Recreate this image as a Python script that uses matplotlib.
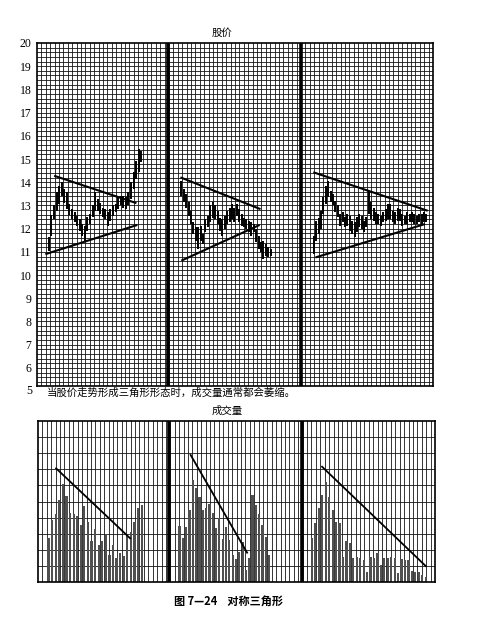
import numpy as np
import matplotlib
matplotlib.use("Agg")
import matplotlib.pyplot as plt

plt.rcParams['font.family'] = ['Noto Sans CJK SC', 'DejaVu Sans']

# ---------------- data ----------------
price_ticks = [6, 7, 8, 9, 10, 11, 12, 13, 14, 15, 16, 17, 18, 19, 20]

p1_high = [11.63, 12.59, 13.0, 13.56, 13.85, 14.0, 13.7, 13.56, 13.06, 12.84, 12.7, 12.56, 12.4,
           12.2, 12.13, 12.5, 12.63, 13.0, 13.56, 13.27, 13.1, 12.9, 12.84, 12.7, 12.84, 13.0,
           13.06, 13.35, 13.4, 13.4, 13.35, 13.56, 14.0, 14.43, 14.93, 15.43, 15.36]
p1_low = [11.05, 11.7, 12.4, 12.77, 13.06, 13.4, 13.1, 12.84, 12.6, 12.4, 12.27, 12.13, 11.9,
          11.7, 11.48, 11.9, 12.2, 12.5, 12.77, 12.77, 12.63, 12.5, 12.4, 12.13, 12.34, 12.56,
          12.7, 12.84, 13.0, 12.9, 12.84, 13.0, 13.27, 13.7, 14.14, 14.43, 14.86]

p2_high = [14.07, 13.7, 13.5, 13.13, 12.77, 12.27, 12.06, 12.06, 12.13, 11.77, 12.41, 12.56, 13.0,
           13.13, 13.0, 12.77, 12.48, 12.41, 12.56, 12.77, 12.91, 13.06, 12.91, 13.06, 12.84,
           12.63, 12.48, 12.41, 12.34, 12.27, 12.2, 11.98, 11.7, 11.41, 11.48, 11.34, 11.19, 11.12]
p2_low = [13.42, 13.13, 12.9, 12.56, 12.2, 11.77, 11.48, 11.12, 11.48, 11.34, 11.84, 12.06, 12.27,
          12.48, 12.41, 12.2, 11.9, 11.7, 11.98, 12.2, 12.27, 12.41, 12.27, 12.56, 12.27, 12.13,
          12.06, 11.98, 11.84, 11.7, 11.84, 11.41, 11.12, 10.98, 10.69, 10.83, 10.76, 10.83]

p3_high = [11.7, 12.34, 12.48, 12.77, 13.35, 13.85, 14.07, 13.63, 13.49, 13.2, 13.0, 12.63, 12.7,
           12.49, 12.63, 12.56, 12.34, 12.27, 12.49, 12.63, 12.56, 12.34, 12.49, 13.63, 13.13,
           12.91, 12.7, 12.63, 12.56, 12.7, 12.84, 13.06, 13.06, 12.77, 12.7, 12.91, 12.84, 12.63,
           12.56, 12.7, 12.63, 12.7, 12.63, 12.56, 12.63, 12.63, 12.7, 12.63]
p3_low = [10.9, 11.48, 11.77, 11.98, 12.63, 13.06, 13.35, 13.13, 13.0, 12.7, 12.49, 12.13, 12.27,
          12.06, 12.13, 11.9, 11.77, 11.63, 11.84, 12.06, 11.98, 11.84, 12.06, 12.63, 12.41,
          12.34, 12.2, 12.2, 12.13, 12.27, 12.34, 12.41, 12.41, 12.27, 12.2, 12.34, 12.34, 12.13,
          12.2, 12.2, 12.27, 12.27, 12.2, 12.2, 12.27, 12.2, 12.27, 12.27]

# price trend lines: (x0, x1), (y0, y1)
pt_upper = [((3.9, 22.6), (14.28, 13.1)), ((32.6, 50.8), (14.21, 12.84)), ((62.8, 88.8), (14.43, 12.77))]
pt_lower = [((1.9, 22.8), (10.9, 12.16)), ((32.8, 50.6), (10.62, 12.16)), ((63.3, 88.2), (10.76, 12.2))]

v1 = [2.75, 3.85, 4.2, 5.1, 6.1, 5.35, 4.3, 4.2, 4.1, 3.55, 4.7, 3.7, 2.55, 3.3, 2.3, 2.55, 3.0,
      1.7, 2.3, 1.5, 1.8, 1.6, 2.8, 3.1, 3.75, 4.6, 4.8]
v2 = [3.48, 2.71, 3.4, 4.47, 6.34, 5.82, 5.26, 4.47, 4.58, 4.82, 4.27, 3.33, 3.95, 2.65, 3.4, 2.61,
      1.68, 1.41, 1.88, 2.5, 0.75, 1.47, 5.4, 4.78, 4.22, 3.54, 2.77, 1.68]
v3 = [2.75, 3.64, 4.58, 5.4, 6.23, 5.26, 4.47, 3.75, 3.64, 1.57, 2.57, 2.4, 1.47, 1.57, 1.47, 1.37,
      0.64, 1.57, 1.47, 1.82, 1.06, 1.47, 1.47, 1.57, 1.47, 0.54, 1.41, 1.37, 1.37, 0.7, 0.64,
      0.64, 0.43, 0.33]

vt_lines = [((4.1, 20.9), (7.06, 2.71)), ((34.6, 47.4), (7.89, 1.82)), ((64.4, 87.9), (7.16, 0.99))]

price_title = "股价"
vol_title = "成交量"
note = "当股价走势形成三角形形态时，成交量通常都会萎缩。"
caption = "图 7—24    对称三角形"

# ---------------- layout ----------------
W, H = 492, 635
fig = plt.figure(figsize=(W / 100, H / 100), dpi=100)
fig.patch.set_facecolor('white')


def px_axes(l, t, r, b):
    return fig.add_axes([l / W, 1 - b / H, (r - l) / W, (b - t) / H])


grid_kw = dict(color='#141414', lw=0.6, zorder=1)
sep_x = [29.7, 59.9]

# ---------------- price chart ----------------
ax = px_axes(37, 43, 433, 386)
ax.set_xlim(0, 90)
ax.set_ylim(5.22, 20)
for xv in np.arange(1, 90, 1):
    ax.axvline(xv, **grid_kw)
for yv in np.arange(5.4, 20, 0.2):
    ax.axhline(yv, **grid_kw)
for xs in sep_x:
    ax.axvline(xs, color='black', lw=2.6, zorder=3)

panels_p = [(p1_high, p1_low, 2.7, 23.7), (p2_high, p2_low, 32.8, 53.1), (p3_high, p3_low, 62.9, 88.5)]
for hi, lo, x0, x1 in panels_p:
    xs = np.linspace(x0, x1, len(hi))
    ax.vlines(xs, lo, hi, color='black', lw=1.4, zorder=4)
for (xx, yy) in pt_upper + pt_lower:
    ax.plot(xx, yy, color='black', lw=1.5, zorder=5, solid_capstyle='butt')

ax.set_yticks(price_ticks)
ax.set_yticklabels([str(t) for t in price_ticks], family='Liberation Serif', fontsize=8.5)
ax.tick_params(axis='y', length=0, pad=4)
ax.set_xticks([])
ax.text(-0.012, 5.0, '5', transform=ax.get_yaxis_transform(), ha='right', va='center',
        family='Liberation Serif', fontsize=8.5)
for s in ax.spines.values():
    s.set_linewidth(1.2)
    s.set_color('black')

fig.text(222 / W, 1 - 33 / H, price_title, ha='center', va='center', fontsize=7.5)
fig.text(47 / W, 1 - 393 / H, note, ha='left', va='center', fontsize=7.5)
fig.text(227 / W, 1 - 411 / H, vol_title, ha='center', va='center', fontsize=7.5)

# ---------------- volume chart ----------------
av = px_axes(38, 421, 435, 582)
av.set_xlim(0, 90)
av.set_ylim(0, 10)
for xv in np.arange(1, 90, 1):
    av.axvline(xv, **grid_kw)
for yv in np.arange(1, 10, 1):
    av.axhline(yv, **grid_kw)
for xs in sep_x:
    av.axvline(xs, color='black', lw=2.6, zorder=3)

panels_v = [(v1, 2.4, 23.5), (v2, 32.1, 52.4), (v3, 62.1, 87.9)]
for vals, x0, x1 in panels_v:
    xs = np.linspace(x0, x1, len(vals))
    av.bar(xs, vals, width=0.5, color='#505050', zorder=2)
for (xx, yy) in vt_lines:
    av.plot(xx, yy, color='black', lw=1.3, zorder=5)
av.set_xticks([])
av.set_yticks([])
for s in av.spines.values():
    s.set_linewidth(1.2)
    s.set_color('black')

fig.text(228 / W, 1 - 602 / H, caption, ha='center', va='center', fontsize=8, fontweight='bold')

fig.savefig('out.png', dpi=100, facecolor='white')
